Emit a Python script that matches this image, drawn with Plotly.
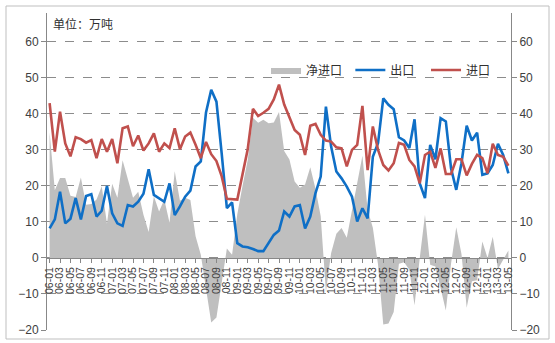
import plotly.graph_objects as go

months_idx = list(range(89))

imports = [43.0, 29.5, 40.6, 31.8, 28.2, 33.5, 33.0, 32.0, 32.7, 27.7,
           33.0, 29.5, 33.0, 26.3, 36.0, 36.5, 31.0, 34.0, 29.8, 31.8,
           34.6, 29.5, 31.8, 30.5, 36.0, 30.2, 33.7, 34.8, 31.4, 27.7,
           32.2, 28.8, 26.9, 22.7, 16.4, 16.3, 16.2, 23.2, 30.2, 41.4,
           39.4, 40.3, 41.4, 44.0, 48.1, 42.6, 38.8, 35.5, 34.2, 28.6,
           36.7, 37.2, 34.2, 32.6, 32.3, 30.7, 30.4, 25.4, 30.0, 31.4,
           42.2, 24.4, 36.5, 30.0, 25.8, 24.3, 26.3, 31.9, 31.4, 27.2,
           25.4, 20.7, 28.6, 29.5, 25.0, 30.4, 23.3, 23.3, 27.4, 27.4,
           22.9, 26.1, 28.6, 27.7, 23.5, 31.7, 28.6, 28.1, 25.6]

exports = [8.2, 10.7, 18.4, 9.6, 10.9, 16.6, 10.7, 17.2, 17.7, 11.5,
           13.1, 20.0, 12.4, 9.6, 8.9, 14.7, 14.3, 15.6, 17.8, 24.6,
           17.5, 16.6, 15.6, 20.7, 11.9, 14.3, 17.0, 18.7, 25.4, 26.8,
           40.4, 46.7, 43.4, 29.1, 13.8, 15.4, 4.1, 3.2, 3.0, 2.5,
           1.9, 1.9, 4.0, 6.4, 7.6, 12.9, 11.5, 14.3, 14.7, 8.2,
           11.5, 18.0, 22.6, 42.0, 30.9, 24.0, 22.1, 19.8, 17.0, 10.1,
           13.8, 11.0, 28.1, 31.9, 44.3, 42.5, 41.3, 33.5, 32.6, 30.5,
           38.5, 20.7, 16.6, 31.4, 27.4, 38.8, 37.9, 24.9, 18.9, 26.3,
           36.7, 32.6, 34.8, 23.1, 23.5, 25.8, 31.7, 28.6, 23.5]

net_imports = [34.8, 18.8, 22.2, 22.2, 17.3, 16.9, 22.3, 14.8, 15.0, 16.2,
               19.9, 9.5, 20.6, 16.7, 27.1, 21.8, 16.7, 18.4, 12.0, 7.2,
               17.1, 12.9, 16.2, 9.8, 24.1, 15.9, 16.7, 16.1, 6.0, 0.9,
               -8.2, -17.9, -16.5, -6.4, 2.6, 0.9, 12.1, 20.0, 27.2, 38.9,
               37.5, 38.4, 37.4, 37.6, 40.5, 29.7, 27.3, 21.2, 19.5, 20.4,
               25.2, 19.2, 11.6, -9.4, 1.4, 6.7, 8.3, 5.6, 13.0, 21.3,
               28.4, 13.4, 8.4, -1.9, -18.5, -18.2, -15.0, -1.6, -1.2, -3.3,
               -13.1, 0.0, 12.0, -1.9, -2.4, -8.4, -14.6, -1.6, 8.5, 1.1,
               -13.8, -6.5, -6.2, 4.6, 0.0, 5.9, -3.1, -0.5, 2.1]

tick_positions = list(range(0, 89, 2))
tick_labels = ["06-01", "06-03", "06-05", "06-07", "06-09", "06-11",
               "07-01", "07-03", "07-05", "07-07", "07-09", "07-11",
               "08-01", "08-03", "08-05", "08-07", "08-09", "08-11",
               "09-01", "09-03", "09-05", "09-07", "09-09", "09-11",
               "10-01", "10-03", "10-05", "10-07", "10-09", "10-11",
               "11-01", "11-03", "11-05", "11-07", "11-09", "11-11",
               "12-01", "12-03", "12-05", "12-07", "12-09", "12-11",
               "13-01", "13-03", "13-05"]

FONT = "Liberation Sans, Arial, Noto Sans CJK SC, sans-serif"
TXT = "#404040"

fig = go.Figure()
fig.add_trace(go.Scatter(x=months_idx, y=net_imports, name="净进口\u00a0", mode="lines",
                         fill="tozeroy", fillcolor="#BFBFBF",
                         line=dict(width=0, color="#BFBFBF")))
fig.add_trace(go.Scatter(x=months_idx, y=exports, name="出口\u00a0\u00a0", mode="lines",
                         line=dict(width=2.6, color="#0F6FC6")))
fig.add_trace(go.Scatter(x=months_idx, y=imports, name="进口", mode="lines",
                         line=dict(width=2.6, color="#C0504D")))
# helper trace so the right-hand axis is drawn
fig.add_trace(go.Scatter(x=months_idx, y=imports, yaxis="y2", mode="lines",
                         line=dict(width=0), showlegend=False, hoverinfo="skip",
                         opacity=0))

L, R, T, B = 47, 44, 13, 13
W, H = 555, 343
pw, ph = W - L - R, H - T - B
def px_x(x):
    return (x - L) / pw
def px_y(y):
    return (H - B - y) / ph

fig.update_layout(
    width=W, height=H,
    margin=dict(l=L, r=R, t=T, b=B, autoexpand=False),
    paper_bgcolor="white", plot_bgcolor="white",
    font=dict(family=FONT, size=12, color=TXT),
    showlegend=True,
    legend=dict(orientation="h", x=px_x(266), y=px_y(70), xanchor="left", yanchor="middle",
                bgcolor="rgba(0,0,0,0)", font=dict(size=12, color="#303030"),
                traceorder="normal", itemwidth=30),
    xaxis=dict(range=[-0.5, 88.5], anchor="free", position=20 / 88, automargin=False,
               tickmode="array", tickvals=tick_positions, ticktext=tick_labels,
               tickangle=-90, tickfont=dict(size=10.5, color=TXT),
               ticks="outside", ticklen=4, tickcolor="#888888",
               showline=True, linecolor="#888888", linewidth=1,
               showgrid=False, zeroline=False),
    yaxis=dict(range=[-20, 68], tickmode="array", tickvals=list(range(-20, 61, 10)),
               automargin=False,
               ticks="outside", ticklen=5, tickcolor="#888888",
               showline=True, linecolor="#888888", linewidth=1,
               showgrid=True, gridcolor="#8c8c8c", griddash="dash", gridwidth=1,
               zeroline=False, tickfont=dict(size=12, color=TXT)),
    yaxis2=dict(range=[-20, 68], overlaying="y", side="right", anchor="x",
                automargin=False,
                tickmode="array", tickvals=list(range(-20, 61, 10)),
                ticks="outside", ticklen=5, tickcolor="#888888",
                showline=True, linecolor="#888888", linewidth=1,
                showgrid=False, zeroline=False, tickfont=dict(size=12, color=TXT)),
    annotations=[dict(text="单位：万吨", xref="paper", yref="paper",
                      x=px_x(51), y=px_y(25), xanchor="left", yanchor="middle",
                      showarrow=False, font=dict(size=12, color="#303030"))],
    shapes=[dict(type="rect", xref="paper", yref="paper",
                 x0=px_x(6), x1=px_x(549), y0=px_y(339), y1=px_y(6),
                 line=dict(color="#BFBFBF", width=1), layer="below")],
)

fig.write_html("out.html")
